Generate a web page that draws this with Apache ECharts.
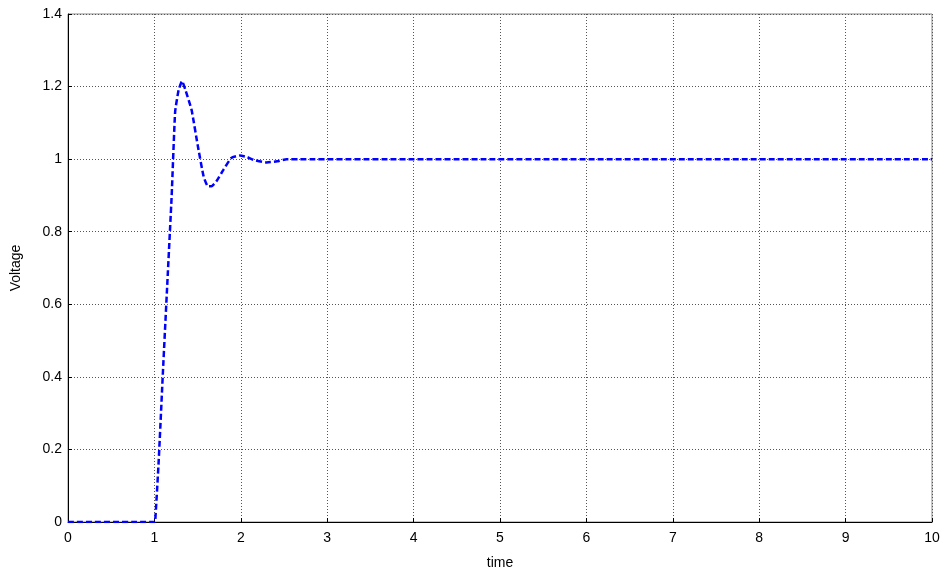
<!DOCTYPE html>
<html>
<head>
<meta charset="utf-8">
<script src="https://cdn.jsdelivr.net/npm/echarts@6/dist/echarts.min.js"></script>
<style>html,body{margin:0;padding:0;background:#fff}#c{width:945px;height:575px}</style>
</head>
<body>
<div id="c"></div>
<script>
const timeValues = [0, 1, 1.01, 1.05, 1.1, 1.15, 1.2, 1.24, 1.28, 1.32, 1.36, 1.43, 1.5, 1.57, 1.62, 1.66, 1.72, 1.8, 1.89, 1.99, 2.07, 2.15, 2.3, 2.42, 2.53, 10];
const voltageValues = [0, 0, 0.005, 0.17, 0.42, 0.66, 0.9, 1.13, 1.19, 1.215, 1.19, 1.136, 1.04, 0.952, 0.925, 0.925, 0.94, 0.971, 1.003, 1.01, 1.006, 0.998, 0.991, 0.994, 1.0, 1.0];
const xTitle = 'time';
const yTitle = 'Voltage';

const chart = echarts.init(document.getElementById('c'), null, {renderer: 'canvas'});
const font = 'Liberation Sans, Arial, sans-serif';
const splitStyle = {show: true, lineStyle: {color: '#555', type: [1, 2], width: 1}};
chart.setOption({
  animation: false,
  grid: {left: 68, right: 13, top: 14, bottom: 52, show: true, borderColor: '#888', borderWidth: 1},
  xAxis: {
    type: 'value', min: 0, max: 10, interval: 1,
    name: xTitle, nameLocation: 'middle', nameGap: 34,
    nameTextStyle: {color: '#000', fontSize: 14, fontFamily: font},
    axisLine: {show: true, onZero: false, lineStyle: {color: '#000', width: 1}},
    axisTick: {show: true, inside: true, length: 4, lineStyle: {color: '#000'}},
    axisLabel: {color: '#000', fontSize: 14, fontFamily: font, margin: 9},
    splitLine: splitStyle
  },
  yAxis: {
    type: 'value', min: 0, max: 1.4, interval: 0.2,
    name: yTitle, nameLocation: 'middle', nameGap: 45, nameRotate: 90,
    nameTextStyle: {color: '#000', fontSize: 14, fontFamily: font},
    axisLine: {show: true, onZero: false, lineStyle: {color: '#000', width: 1}},
    axisTick: {show: true, inside: true, length: 4, lineStyle: {color: '#000'}},
    axisLabel: {color: '#000', fontSize: 14, fontFamily: font, margin: 6},
    splitLine: splitStyle
  },
  series: [{
    type: 'line',
    data: timeValues.map((t, i) => [t, voltageValues[i]]),
    showSymbol: false,
    smooth: 0.15,
    lineStyle: {color: '#0000ff', width: 2.5, type: [6, 3]}
  }]
});
</script>
</body>
</html>
